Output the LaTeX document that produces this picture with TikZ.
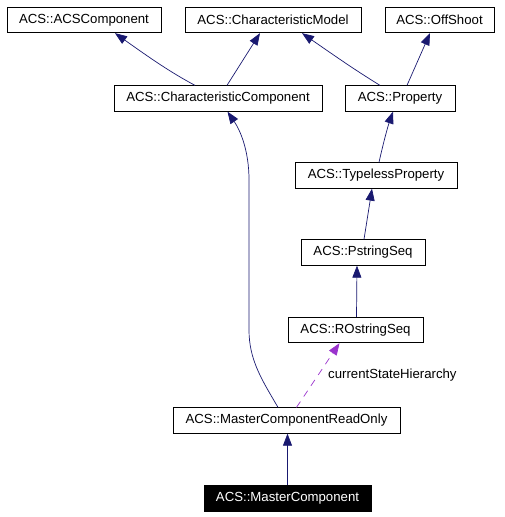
\documentclass[tikz,border=0pt]{standalone}
\usepackage{fontspec}
\setmainfont{Liberation Sans}
\usetikzlibrary{arrows.meta}
\definecolor{edgeblue}{HTML}{191970}
\definecolor{edgepurple}{HTML}{9A32CD}
\begin{document}
\begin{tikzpicture}[x=1pt,y=-1pt,
  cls/.style={draw=black,line width=0.8pt,fill=white,inner sep=0pt,font=\fontsize{13.2}{15}\selectfont,minimum height=25.5pt},
  cur/.style={cls,fill=black,text=white},
  inh/.style={draw=edgeblue,line width=0.7pt,-{Triangle[length=12pt,width=9pt]}},
  use/.style={draw=edgepurple,line width=0.7pt,dash pattern=on 7pt off 6pt,-{Triangle[length=12pt,width=9pt]}},
  lbl/.style={font=\fontsize{13.2}{15}\selectfont,inner sep=0pt,anchor=west}]
\useasboundingbox (0,0) rectangle (504,517);
\node[cls,minimum width=154pt] (acs) at (84,20) {ACS::ACSComponent};
\node[cls,minimum width=176pt] (cm) at (273,20) {ACS::CharacteristicModel};
\node[cls,minimum width=109pt] (os) at (439.5,20) {ACS::OffShoot};
\node[cls,minimum width=208pt] (cc) at (218,98.5) {ACS::CharacteristicComponent};
\node[cls,minimum width=110pt] (prop) at (400,98.5) {ACS::Property};
\node[cls,minimum width=162pt] (tp) at (376,175.5) {ACS::TypelessProperty};
\node[cls,minimum width=124pt] (ps) at (363,252.5) {ACS::PstringSeq};
\node[cls,minimum width=135pt] (ros) at (355.5,330) {ACS::ROstringSeq};
\node[cls,minimum width=227pt] (mcro) at (286.5,420.5) {ACS::MasterComponentReadOnly};
\node[cur,minimum width=167pt] (mc) at (287.5,498.5) {ACS::MasterComponent};

\draw[inh] ([xshift=-23pt]cc.north) .. controls (170,72) and (150,58) .. ([xshift=31pt]acs.south);
\draw[inh] ([xshift=9pt]cc.north) -- ([xshift=-13pt]cm.south);
\draw[inh] ([xshift=-20pt]prop.north) .. controls (355,70) and (335,56) .. ([xshift=29pt]cm.south);
\draw[inh] ([xshift=7pt]prop.north) -- ([xshift=-9.5pt]os.south);
\draw[inh] ([xshift=3pt]tp.north) .. controls (384,140) and (388,126) .. ([xshift=-7pt]prop.south);
\draw[inh] ([xshift=1pt]ps.north) -- ([xshift=-4pt]tp.south);
\draw[inh] ([xshift=1pt]ros.north) -- ([xshift=-6pt]ps.south);
\draw[inh] ([xshift=-8.5pt]mcro.north) .. controls (262,380) and (249,360) .. (249,330) -- (249,180) .. controls (249,150) and (240,130) .. ([xshift=9.5pt]cc.south);
\draw[use] ([xshift=10pt]mcro.north) -- ([xshift=-16pt]ros.south);
\node[lbl] (lab) at (328,375) {currentStateHierarchy};
\draw[inh] (mc.north) -- (mc.north |- mcro.south);
\end{tikzpicture}
\end{document}
